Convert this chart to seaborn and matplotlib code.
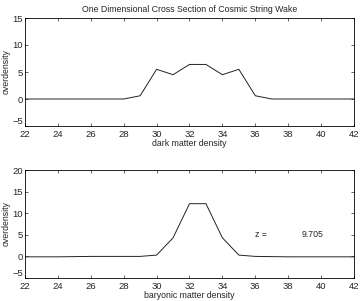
import matplotlib
matplotlib.use("Agg")
import matplotlib.pyplot as plt
import seaborn as sns
import pandas as pd

x_vals = [22, 23, 24, 25, 26, 27, 28, 29, 30, 31, 32, 33, 34, 35, 36, 37, 38, 39, 40, 41, 42]
dark_matter = [0, 0, 0, 0, 0, 0, 0, 0.6, 5.5, 4.5, 6.4, 6.4, 4.5, 5.5, 0.6, 0, 0, 0, 0, 0, 0]
baryonic = [-0.1, -0.1, -0.1, -0.05, 0, 0, 0, 0, 0.3, 4.3, 12.2, 12.2, 4.3, 0.3, 0, -0.05, -0.1, -0.1, -0.1, -0.1, -0.1]
top_yticks = [-5, 0, 5, 10, 15]
bot_yticks = [-5, 0, 5, 10, 15, 20]
xticks = [22, 24, 26, 28, 30, 32, 34, 36, 38, 40, 42]

sns.set_style("white")
plt.rcParams['font.family'] = ['Liberation Sans', 'DejaVu Sans']
fs = 6.3
tfs = 6.8

fig = plt.figure(figsize=(3.62, 3.01), dpi=100)
ax1 = fig.add_axes([25/362, 1 - 126/301, 329/362, 108/301])
ax2 = fig.add_axes([25/362, 1 - 278/301, 329/362, 108/301])

df1 = pd.DataFrame({"x": x_vals, "y": dark_matter})
df2 = pd.DataFrame({"x": x_vals, "y": baryonic})
sns.lineplot(data=df1, x="x", y="y", ax=ax1, color="#222222", linewidth=0.7)
sns.lineplot(data=df2, x="x", y="y", ax=ax2, color="#222222", linewidth=0.7)

for ax, yt, xl in [(ax1, top_yticks, "dark matter density"), (ax2, bot_yticks, "baryonic matter density")]:
    ax.set_xlim(22, 42)
    ax.set_ylim(yt[0], yt[-1])
    ax.set_xticks(xticks)
    ax.set_yticks(yt)
    ax.tick_params(direction="in", length=2.5, width=0.5, labelsize=tfs, top=True, right=True,
                   bottom=True, left=True)
    ax.tick_params(axis="x", pad=3)
    ax.tick_params(axis="y", pad=1.5)
    ax.get_yticklabels()[0].set_verticalalignment("bottom")
    ax.set_xlabel(xl, fontsize=fs, labelpad=0)
    ax.set_ylabel("overdensity", fontsize=fs, labelpad=1)
    for s in ax.spines.values():
        s.set_linewidth(0.6)
        s.set_color("black")

ax1.set_title("One Dimensional Cross Section of Cosmic String Wake", fontsize=fs, pad=4)
ax2.text(36, 4.5, "z =", fontsize=fs)
ax2.text(38.8, 4.5, "9.705", fontsize=fs)

fig.savefig("out.png", dpi=100)
